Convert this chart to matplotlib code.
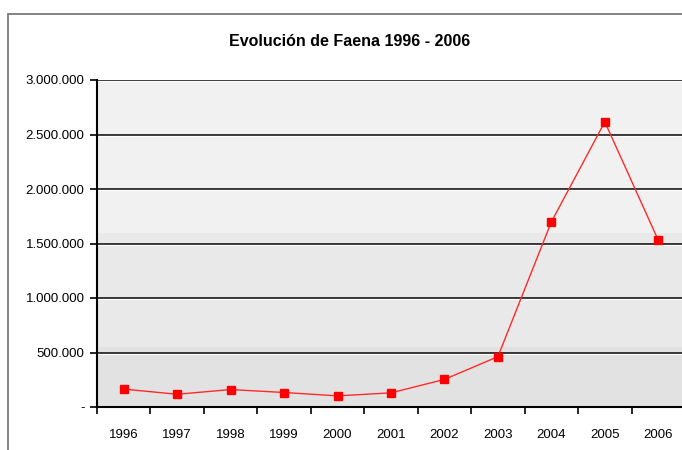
import matplotlib
matplotlib.use("Agg")
import matplotlib.pyplot as plt
from matplotlib.patches import Rectangle
from matplotlib.ticker import FixedLocator, NullFormatter

years = ["1996", "1997", "1998", "1999", "2000", "2001", "2002", "2003", "2004", "2005", "2006"]
faena = [164000, 117000, 160000, 133000, 102000, 130000, 253000, 462000, 1698000, 2616000, 1530000]
ytick_values = [0, 500000, 1000000, 1500000, 2000000, 2500000, 3000000]
ytick_labels = ["-", "500.000", "1.000.000", "1.500.000", "2.000.000", "2.500.000", "3.000.000"]
title = "Evolución de Faena 1996 - 2006"

plt.rcParams["font.family"] = ["Liberation Sans Narrow", "Liberation Sans", "DejaVu Sans"]

W, H = 682, 450
fig = plt.figure(figsize=(W / 100, H / 100), dpi=100)
fig.patch.set_facecolor("white")

# outer chart frame
fig.add_artist(Rectangle((8 / W, -0.1), 1.2, (H - 14) / H + 0.1, transform=fig.transFigure,
                         fill=False, edgecolor="#7a7a7a", linewidth=1.3))

left, right, top, bottom = 97, 685, 80, 407
ax = fig.add_axes([left / W, (H - bottom) / H, (right - left) / W, (bottom - top) / H])

n = len(years)
ax.set_xlim(-0.5, n - 0.5)
ax.set_ylim(0, 3000000)
ax.set_facecolor("#e9e9e9")

# shaded bands of the plot area
ax.axhspan(0, 550000, color="#e2e2e2", zorder=0, lw=0)
ax.axhspan(550000, 1600000, color="#e9e9e9", zorder=0, lw=0)
ax.axhspan(1600000, 3000000, color="#f1f1f1", zorder=0, lw=0)

# gridlines with a light edge underneath
for v in ytick_values[1:]:
    ax.axhline(v, color="#262626", lw=1.3, zorder=1)
    ax.axhline(v - 10000, color="white", lw=0.8, zorder=1)

x = list(range(n))
ax.plot(x, faena, color="#ff2a2a", lw=1.0, zorder=3)
ax.plot(x, faena, ls="none", marker="s", ms=5.5, color="#ff0000", mec="#ff0000", zorder=4)

ax.set_yticks(ytick_values)
ax.set_yticklabels(ytick_labels)
ax.set_xticks(x)
ax.set_xticklabels(years)
ax.xaxis.set_minor_locator(FixedLocator([i - 0.5 for i in range(n + 1)]))
ax.xaxis.set_minor_formatter(NullFormatter())
ax.tick_params(axis="x", which="major", length=0, pad=16, labelsize=9.5, colors="black")
ax.tick_params(axis="x", which="minor", length=5, width=1.2, direction="out", color="black")
ax.tick_params(axis="y", length=5, width=1.2, direction="out", pad=4, labelsize=9.5, colors="black")

for s in ["top", "right"]:
    ax.spines[s].set_visible(False)
for s in ["left", "bottom"]:
    ax.spines[s].set_linewidth(1.5)
    ax.spines[s].set_color("black")

fig.text(350 / W, 1 - 42 / H, title, ha="center", va="center", fontsize=11.5, fontweight="bold")

fig.savefig("out.png", dpi=100)
